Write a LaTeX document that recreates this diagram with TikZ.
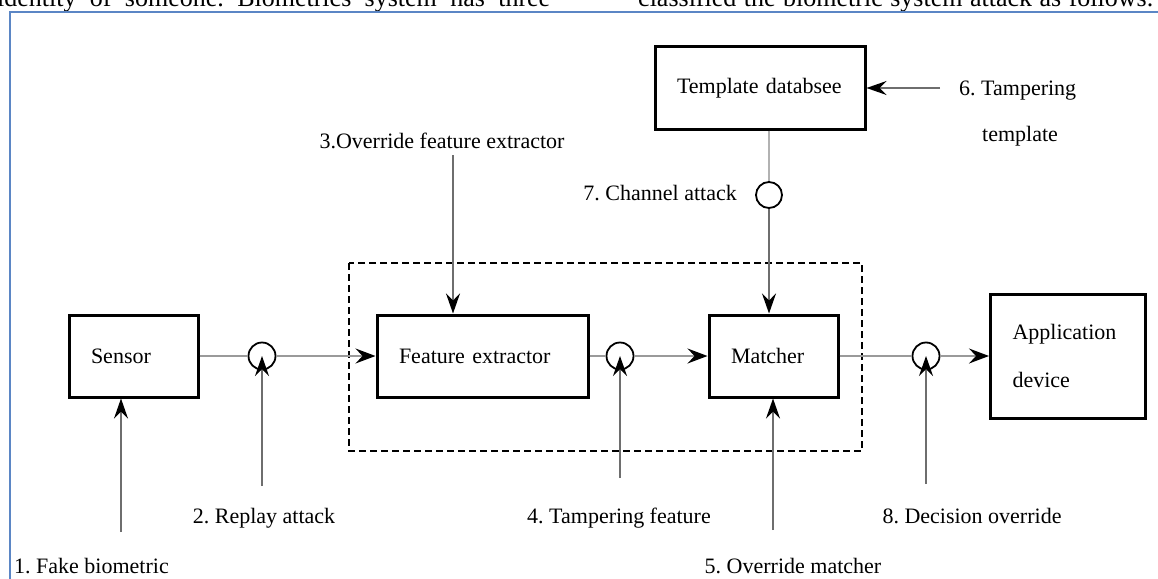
\documentclass[tikz,border=0pt]{standalone}
\usepackage{fontspec}
\setmainfont{Liberation Serif}
\usepackage{tikz}
\usetikzlibrary{arrows.meta,positioning}
\definecolor{frameblue}{HTML}{5B86C5}
\definecolor{wiregray}{HTML}{9A9A9A}
\definecolor{atkgray}{HTML}{6E6E6E}
\frenchspacing

\begin{document}
\begin{tikzpicture}[
x=1pt,y=-1pt,
box/.style={draw,line width=3pt,align=left,inner xsep=22pt,inner ysep=0pt,
font=\fontsize{22}{26}\selectfont,minimum height=82pt},
tap/.style={circle,draw,line width=1.8pt,fill=white,minimum size=27pt,
inner sep=0pt},
lbl/.style={font=\fontsize{22}{26}\selectfont,inner sep=0pt},
wire/.style={draw=wiregray,line width=1.5pt},
arr/.style={wire,-{Stealth[black,length=20pt,width=15pt,inset=7pt]}},
atk/.style={draw=atkgray,line width=1.5pt,
-{Stealth[black,length=20pt,width=14pt,inset=7pt]}}
]
\useasboundingbox (0,0) rectangle (1158,578);
\clip (0,0) rectangle (1158,578);
% text of the page around the figure
\node[font=\fontsize{26}{30}\selectfont,inner sep=0pt,anchor=base west] (txa)
at (-3,7) {\makebox[553pt][s]{identity of someone. Biometrics system has three}};
\node[font=\fontsize{26}{30}\selectfont,inner sep=0pt,anchor=base west] (txb)
at (638,7) {\makebox[515pt][s]{classified the biometric system attack as follows.}};
\draw[frameblue,line width=2.6pt] (10,640) -- (10,12) -- (1200,12);
% modules
\node[box,text width=85pt]  (sensor) at (133.5,356) {Sensor};
\node[box,text width=167pt] (fext)   at (482.5,356) {Feature extractor};
\node[box,text width=85pt]  (match)  at (773.5,356) {Matcher};
\node[box,text width=166pt] (tdb)    at (760,88) {Template databsee};
\node[box,text width=111pt,minimum height=124pt,
font=\fontsize{22}{48}\selectfont] (app) at (1068,356) {Application\\device};
\draw[dashed,dash pattern=on 7pt off 4pt,line width=1.2pt] (349,263) rectangle (862,451);
% attack points on the channels
\node[tap] (t1) at (262,356) {};
\node[tap] (t2) at (620,356) {};
\node[tap] (t3) at (926,356) {};
\node[tap,minimum size=26pt] (t7) at (769,195) {};
% labels
\node[lbl,anchor=base west] (l1) at (14,573) {1. Fake biometric};
\node[lbl,anchor=base] (l2) at (264,523) {2. Replay attack};
\node[lbl,anchor=base] (l3) at (442,148) {3.Override feature extractor};
\node[lbl,anchor=base] (l4) at (619,523) {4. Tampering feature};
\node[lbl,anchor=base] (l5) at (793,573) {5. Override matcher};
\node[lbl,anchor=base west] (l6) at (959,95) {6. Tampering};
\node[lbl,anchor=base] (l6b) at (1020,141) {template};
\node[lbl,anchor=base east] (l7) at (737,200) {7. Channel attack};
\node[lbl,anchor=base] (l8) at (972,523) {8. Decision override};
\coordinate (s1) at (121,532);
\coordinate (s2) at (262,486);
\coordinate (s3) at (453,155);
\coordinate (s4) at (620,478);
\coordinate (s5) at (773,530);
\coordinate (s6) at (940,88);
\coordinate (s8) at (926,484);
% channels
\foreach \a/\b in {sensor/t1,fext/t2,match/t3}
\draw[wire] (\a) -- (\b);
\foreach \a/\b in {t1/fext,t2/match,t3/app}
\draw[arr] (\a) -- (\b);
\draw[wire,draw=black!30] (tdb.south -| t7) -- (t7);
\draw[atk] (t7) -- (t7 |- match.north);
% attacks
\foreach \s/\t in {s2/t1,s4/t2,s8/t3}
\draw[atk] (\s) -- (\t.center);
\draw[atk] (s1) -- (s1 |- sensor.south);
\draw[atk] (s3) -- (s3 |- fext.north);
\draw[atk] (s5) -- (s5 |- match.south);
\draw[atk] (s6) -- (tdb.east);
\end{tikzpicture}
\end{document}
